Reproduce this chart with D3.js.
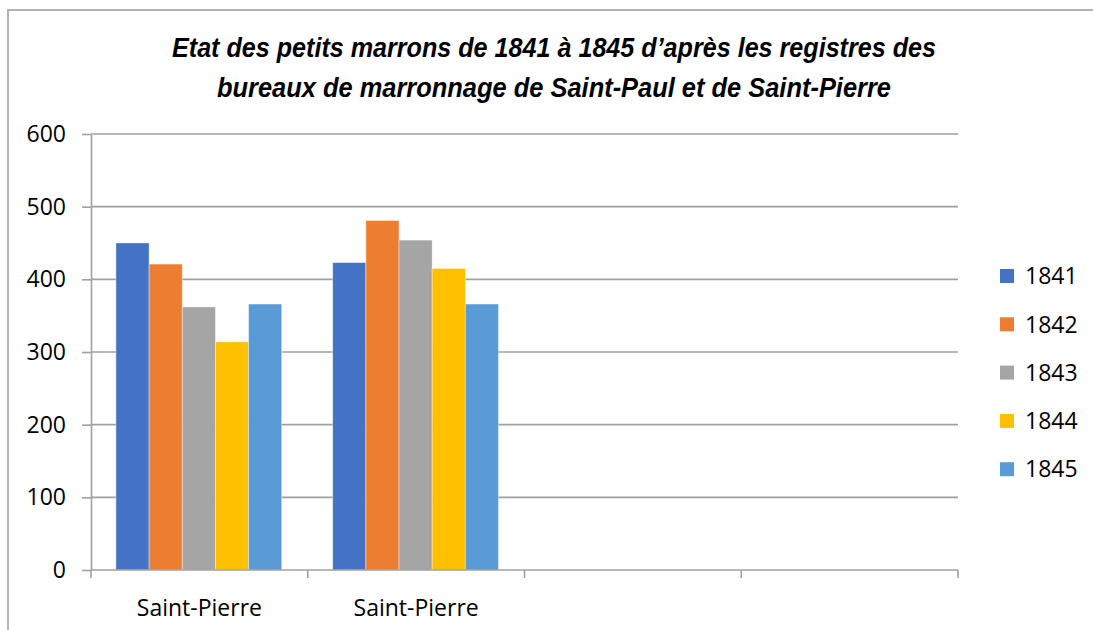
<html>
<script src='https://d3js.org/d3.v7.min.js'></script>
<style>
  body { margin: 0; background: white; }
  text { font-family: "Open Sans", "DejaVu Sans", sans-serif; fill: #000; }
  .title { font-family: "Liberation Sans Narrow", "Liberation Sans", sans-serif; font-weight: bold; font-style: italic; }
</style>
<body>
<svg id="chart" width="1093" height="630"></svg>
<script>
// data
var categories = ["Saint-Pierre", "Saint-Pierre", "", ""];
var years = ["1841", "1842", "1843", "1844", "1845"];
var v1841 = [450, 423];
var v1842 = [421, 481];
var v1843 = [362, 454];
var v1844 = [314, 415];
var v1845 = [366, 366];
var yTicks = [0, 100, 200, 300, 400, 500, 600];
var colors = ["#4472C4", "#ED7D31", "#A5A5A5", "#FFC000", "#5B9BD5"];
var titleLines = ["Etat des petits marrons de 1841  à 1845  d’après les registres des",
                  "bureaux de marronnage de Saint-Paul et de Saint-Pierre"];

var series = [v1841, v1842, v1843, v1844, v1845];
var table = [];
for (var c = 0; c < categories.length; c++) {
    var row = [];
    for (var s = 0; s < years.length; s++) {
        if (series[s][c] !== undefined) row.push({year: years[s], value: series[s][c], k: s});
    }
    table.push(row);
}

var svg = d3.select("#chart");
var grey = "#a0a0a0";

// outer frame of the chart
svg.append("rect")
    .attr("x", 8).attr("y", 10)
    .attr("width", 1100).attr("height", 700)
    .attr("fill", "white")
    .attr("stroke", grey).attr("stroke-width", 1.6);

// title
var titleW = [764, 674];
svg.selectAll(".title")
    .data(titleLines)
    .enter()
    .append("text")
    .attr("class", "title")
    .attr("x", 554)
    .attr("y", function(d, i) { return 57 + i * 40; })
    .attr("text-anchor", "middle")
    .attr("font-size", 27)
    .attr("textLength", function(d, i) { return titleW[i]; })
    .attr("lengthAdjust", "spacingAndGlyphs")
    .text(function(d) { return d; });

var plotL = 91, plotR = 958, plotT = 134, plotB = 570;

var x = d3.scaleBand()
    .domain(d3.range(categories.length))
    .range([plotL, plotR])
    .padding(0);
var x1 = d3.scaleBand()
    .domain(years)
    .range([x.bandwidth() * 0.115, x.bandwidth() * 0.88])
    .padding(0);
var y = d3.scaleLinear()
    .domain([0, 600])
    .range([plotB, plotT]);

// gridlines
svg.append("g")
    .selectAll("line")
    .data(yTicks.slice(1))
    .enter()
    .append("line")
    .attr("x1", plotL).attr("x2", plotR)
    .attr("y1", function(d) { return y(d); })
    .attr("y2", function(d) { return y(d); })
    .attr("stroke", grey).attr("stroke-width", 1.6);

// bars
var groups = svg.append("g")
    .selectAll("g")
    .data(table)
    .enter()
    .append("g")
    .attr("transform", function(d, i) { return "translate(" + x(i) + ",0)"; });
groups.selectAll("rect")
    .data(function(d) { return d; })
    .enter()
    .append("rect")
    .attr("x", function(d) { return x1(d.year); })
    .attr("y", function(d) { return y(d.value); })
    .attr("width", x1.bandwidth())
    .attr("height", function(d) { return plotB - y(d.value); })
    .attr("fill", function(d) { return colors[d.k]; })
    .attr("stroke", "#ffffff").attr("stroke-opacity", 0.5).attr("stroke-width", 0.8);

// y axis
var yAxis = svg.append("g")
    .attr("transform", "translate(" + plotL + ",0)")
    .call(d3.axisLeft(y).tickValues(yTicks).tickSize(9).tickPadding(16).tickSizeOuter(0));
yAxis.select(".domain").attr("stroke", grey).attr("stroke-width", 1.6);
yAxis.selectAll(".tick line").attr("stroke", grey).attr("stroke-width", 1.6);
yAxis.selectAll(".tick text")
    .attr("font-size", 23)
    .attr("font-family", "'Open Sans', sans-serif")
    .attr("fill", "#000");

// x axis: ticks at the band edges
var edges = d3.range(categories.length + 1).map(function(i) { return plotL + i * x.bandwidth(); });
svg.append("line")
    .attr("x1", plotL).attr("x2", plotR)
    .attr("y1", plotB).attr("y2", plotB)
    .attr("stroke", grey).attr("stroke-width", 1.6);
svg.append("g")
    .selectAll("line")
    .data(edges)
    .enter()
    .append("line")
    .attr("x1", function(d) { return d; }).attr("x2", function(d) { return d; })
    .attr("y1", plotB).attr("y2", plotB + 8)
    .attr("stroke", grey).attr("stroke-width", 1.6);
svg.append("g")
    .selectAll("text")
    .data(categories)
    .enter()
    .append("text")
    .attr("x", function(d, i) { return x(i) + x.bandwidth() / 2; })
    .attr("y", 616)
    .attr("text-anchor", "middle")
    .attr("font-size", 23)
    .text(function(d) { return d; });

// legend
var legend = svg.append("g")
    .selectAll("g")
    .data(years)
    .enter()
    .append("g")
    .attr("transform", function(d, i) { return "translate(1000," + (269 + i * 48.3) + ")"; });
legend.append("rect")
    .attr("width", 14).attr("height", 14)
    .attr("fill", function(d, i) { return colors[i]; });
legend.append("text")
    .attr("x", 25).attr("y", 7)
    .attr("dy", "0.36em")
    .attr("font-size", 23)
    .text(function(d) { return d; });
</script>
</body>
</html>
